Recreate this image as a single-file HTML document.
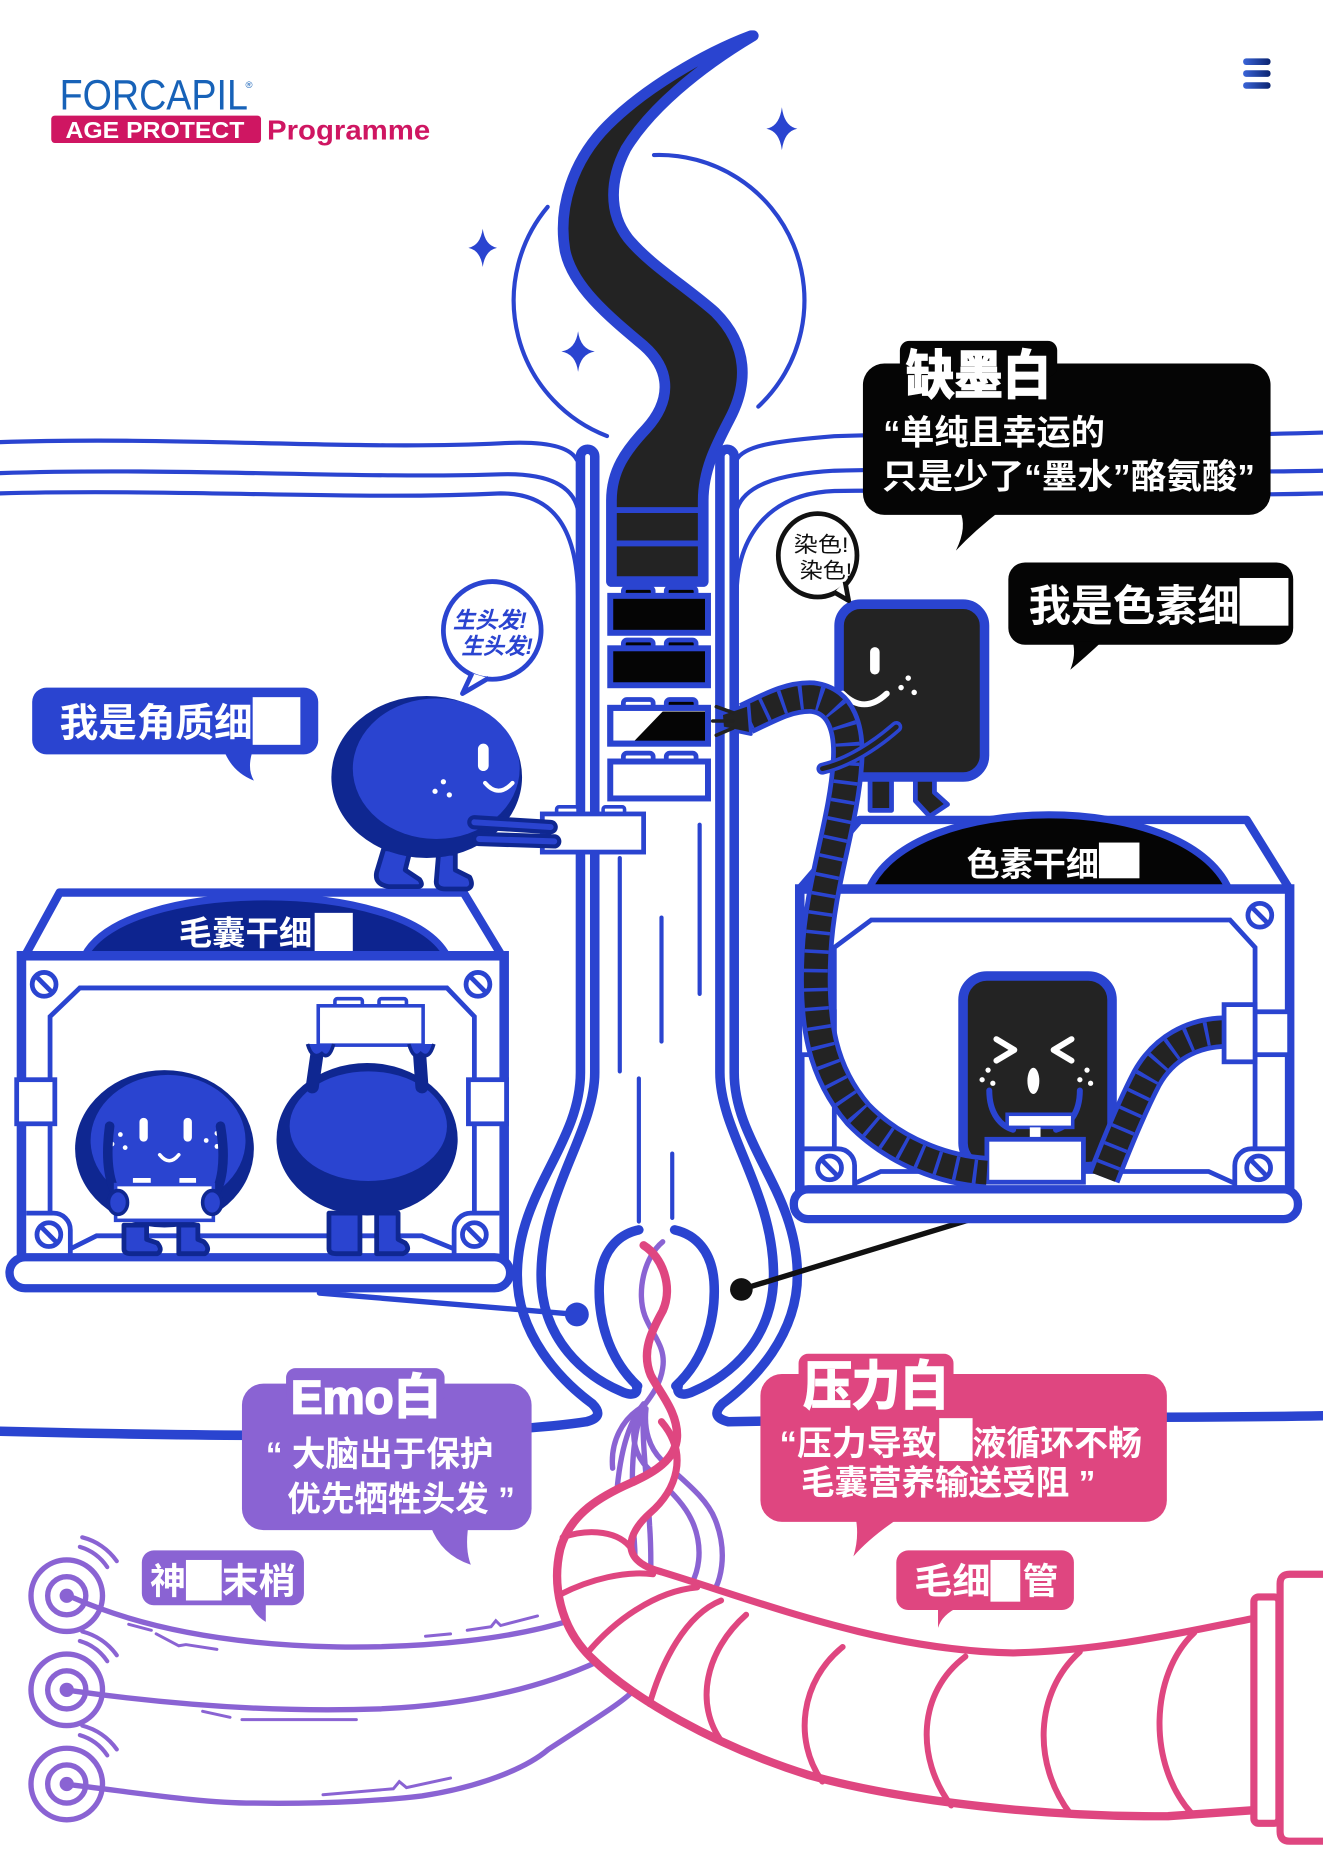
<!DOCTYPE html>
<html><head><meta charset="utf-8">
<style>
html,body{margin:0;padding:0;background:#fff;}
svg{display:block;}
text{font-family:"Liberation Sans","Noto Sans CJK SC",sans-serif;}
</style></head>
<body>
<svg width="1323" height="1871" viewBox="0 0 1110 1570" preserveAspectRatio="none" xmlns="http://www.w3.org/2000/svg">
<defs>
<linearGradient id="hb" x1="0" x2="1" y1="0" y2="0"><stop offset="0" stop-color="#3a64d8"/><stop offset="1" stop-color="#0b2470"/></linearGradient>
</defs>
<rect width="1110" height="1570" fill="#fff"/>

<!-- LOGO -->
<text x="50" y="92" font-size="36" fill="#1762b8" textLength="158" lengthAdjust="spacingAndGlyphs">FORCAPIL</text>
<text x="206" y="74" font-size="8" fill="#1762b8">®</text>
<rect x="43" y="97" width="176" height="23" rx="3" fill="#cf1662"/>
<text x="55" y="116" font-size="19.5" font-weight="bold" fill="#fff" textLength="150" lengthAdjust="spacingAndGlyphs">AGE PROTECT</text>
<text x="224" y="117" font-size="23" font-weight="bold" fill="#cf1662" textLength="137" lengthAdjust="spacingAndGlyphs">Programme</text>

<!-- hamburger -->
<rect x="1043" y="49" width="23" height="5.5" rx="2.5" fill="url(#hb)"/>
<rect x="1043" y="59" width="23" height="5.5" rx="2.5" fill="url(#hb)"/>
<rect x="1043" y="69" width="23" height="5.5" rx="2.5" fill="url(#hb)"/>

<!-- top skin lines and arcs -->
<g fill="none" stroke="#2a44d0" stroke-width="3.5" stroke-linecap="round">
<path d="M0,371 C150,366 300,378 420,372 C455,370 478,374 484,386"/>
<path d="M0,397 C150,392 300,402 420,398 C455,397 480,405 485,428"/>
<path d="M0,414 C150,410 300,420 420,414 C462,414 484,440 485,500"/>
<path d="M618,386 C624,374 650,370 700,366 C800,362 950,368 1110,363"/>
<path d="M618,428 C624,408 650,398 700,395 C800,392 950,398 1110,395"/>
<path d="M618,500 C618,450 645,414 700,412 C800,410 950,418 1110,414"/>
<path d="M459.5,173.6 A122,122 0 0 0 509.3,365.9"/>
<path d="M548.7,130.1 A122,122 0 0 1 636.2,341.2"/>
</g>
<!-- stars -->
<g fill="#2a44d0">
<path d="M656,90 Q658,106 669,108 Q658,110 656,126 Q654,110 643,108 Q654,106 656,90 Z"/>
<path d="M405,192 Q407,206 417,208 Q407,210 405,224 Q403,210 393,208 Q403,206 405,192 Z"/>
<path d="M485,278 Q487,293 499,295 Q487,297 485,312 Q483,297 471,295 Q483,293 485,278 Z"/>
</g>

<!-- HAIR -->
<path d="M630,30 C590,45 540,75 510,105 C480,135 468,175 474,210 C480,240 510,265 540,290 C565,312 562,338 542,360 C525,378 513,395 513,420 L513,488 L590,488 L590,420 C590,395 600,375 612,352 C628,322 628,290 600,262 C575,240 545,222 527,200 C510,178 512,150 525,125 C545,92 585,58 632,30 Z" fill="#232323" stroke="#2a44d0" stroke-width="9" stroke-linejoin="round"/>
<path d="M513,428 H590 M513,456 H590" stroke="#2a44d0" stroke-width="5"/>

<!-- FOLLICLE WALLS -->
<g fill="none" stroke="#2a44d0" stroke-width="8" stroke-linecap="round" stroke-linejoin="round">
<path d="M0,1201 C120,1204 250,1206 350,1203 C410,1201 460,1198 492,1193 Q508,1189 497,1178 C470,1158 434,1120 434,1070 C434,1000 487,960 487,900 L487,383 A6,6 0 0 1 499,383 L499,900 C499,950 454,1000 454,1070 C454,1125 492,1155 520,1167 C530,1172 536,1170 534,1163"/>
<path d="M1110,1188 C1000,1190 880,1189 780,1190 C700,1191 650,1192 611,1193 Q595,1189 606,1178 C633,1158 669,1120 669,1070 C669,1000 616,960 616,900 L616,383 A6,6 0 0 0 604,383 L604,900 C604,950 649,1000 649,1070 C649,1125 611,1155 583,1167 C573,1172 567,1170 569,1163"/>
<path d="M536,1032 C518,1036 505,1050 503,1075 C501,1105 510,1140 535,1163"/>
<path d="M566,1032 C584,1036 597,1050 599,1075 C601,1105 592,1140 567,1163"/>
</g>
<g stroke="#2a44d0" stroke-width="3.5" stroke-linecap="round">
<line x1="520" y1="720" x2="520" y2="899"/>
<line x1="536" y1="905" x2="536" y2="1025"/>
<line x1="555" y1="770" x2="555" y2="874"/>
<line x1="564" y1="968" x2="564" y2="1022"/>
<line x1="587" y1="692" x2="587" y2="834"/>
</g>

<!-- BRICKS -->
<g stroke="#2a44d0">
<rect x="523" y="493" width="25" height="9" rx="3" fill="#050505" stroke-width="4"/>
<rect x="559" y="493" width="25" height="9" rx="3" fill="#050505" stroke-width="4"/>
<rect x="512" y="500" width="82" height="31" fill="#050505" stroke-width="5"/>
<rect x="523" y="537" width="25" height="9" rx="3" fill="#050505" stroke-width="4"/>
<rect x="559" y="537" width="25" height="9" rx="3" fill="#050505" stroke-width="4"/>
<rect x="512" y="544" width="82" height="31" fill="#050505" stroke-width="5"/>
<rect x="523" y="587" width="25" height="9" rx="3" fill="#fff" stroke-width="4"/>
<rect x="559" y="587" width="25" height="9" rx="3" fill="#050505" stroke-width="4"/>
<rect x="512" y="594" width="82" height="30" fill="#fff" stroke-width="5"/>
<polygon points="532,622 556,597 592,597 592,622" fill="#050505" stroke="none"/>
<rect x="512" y="594" width="82" height="30" fill="none" stroke-width="5"/>
<rect x="523" y="632" width="25" height="9" rx="3" fill="#fff" stroke-width="4"/>
<rect x="559" y="632" width="25" height="9" rx="3" fill="#fff" stroke-width="4"/>
<rect x="512" y="639" width="82" height="31" fill="#fff" stroke-width="5"/>
</g>

<!-- connectors -->
<line x1="268" y1="1085" x2="484" y2="1103" stroke="#2a44d0" stroke-width="4.5" stroke-linecap="round"/>
<circle cx="484" cy="1103" r="10" fill="#2a44d0"/>
<line x1="622" y1="1082" x2="825" y2="1020" stroke="#111" stroke-width="4.5" stroke-linecap="round"/>
<circle cx="622" cy="1082" r="9.5" fill="#111"/>

<!-- PURPLE NERVES -->
<g fill="none" stroke="#8a63d3" stroke-width="4.5" stroke-linecap="round">
<path d="M556,1042 C540,1055 534,1085 541,1104 C547,1120 559,1130 556,1148 C554,1162 546,1172 540,1180"/>
<path d="M62,1341 C110,1362 180,1380 283,1382 C360,1383 430,1375 481,1359 C505,1350 515,1320 516,1280 C517,1240 522,1200 540,1178"/>
<path d="M62,1419 C140,1430 230,1437 318,1434 C390,1431 450,1418 502,1394 C530,1380 535,1330 532,1290 C530,1250 528,1210 540,1180"/>
<path d="M62,1498 C120,1505 170,1513 212,1513 C280,1514 330,1510 354,1507 C400,1500 440,1485 460,1468 C495,1445 520,1430 530,1420 C545,1400 548,1320 545,1280 C543,1240 538,1210 540,1180"/>
<path d="M540,1180 C522,1190 512,1210 514,1232"/>
<path d="M540,1180 C528,1195 530,1215 540,1228 C555,1245 572,1258 580,1275 C590,1295 590,1325 569,1342"/>
<path d="M542,1182 C540,1200 545,1215 555,1225 C570,1240 592,1255 600,1275 C610,1300 608,1330 590,1347"/>
</g>
<g fill="none" stroke="#8a63d3" stroke-width="2.5" stroke-linecap="round">
<path d="M108,1363 L127,1368 M131,1371 L150,1381 L156,1380 L182,1384 M357,1373 L378,1371 M392,1368 L412,1365 L416,1360 L420,1364 L451,1356"/>
<path d="M170,1436 L193,1441 M203,1443 L299,1443"/>
<path d="M271,1506 L330,1501 L335,1495 L341,1500 L378,1492"/>
</g>
<g fill="none" stroke="#8a63d3" stroke-width="4.5">
<circle cx="56" cy="1339" r="30"/><circle cx="56" cy="1339" r="16"/>
<circle cx="56" cy="1418" r="30"/><circle cx="56" cy="1418" r="16"/>
<circle cx="56" cy="1497" r="30"/><circle cx="56" cy="1497" r="16"/>
</g>
<g fill="none" stroke="#8a63d3" stroke-width="3.5" stroke-linecap="round">
<path d="M67,1298 A42,42 0 0 1 90,1315 M69,1290 A51,51 0 0 1 98,1310"/>
<path d="M67,1377 A42,42 0 0 1 90,1394 M69,1369 A51,51 0 0 1 98,1389"/>
<path d="M67,1456 A42,42 0 0 1 90,1473 M69,1448 A51,51 0 0 1 98,1468"/>
</g>
<g fill="#8a63d3"><circle cx="56" cy="1339" r="6"/><circle cx="56" cy="1418" r="6"/><circle cx="56" cy="1497" r="6"/></g>

<!-- PINK CAPILLARY -->
<path d="M555,1193 C578,1220 568,1250 545,1270 C525,1288 520,1310 555,1319 C640,1345 740,1385 850,1387 C930,1385 1000,1368 1052,1358 L1052,1519 L980,1524 C880,1525 760,1512 680,1490 C600,1465 530,1425 495,1390 C470,1365 463,1330 470,1300 C478,1270 505,1255 530,1244 C548,1236 567,1225 568,1206 Z" fill="#fff"/>
<g fill="none" stroke="#df4680" stroke-linecap="round" stroke-linejoin="round">
<path stroke-width="7" d="M540,1045 C556,1055 565,1080 556,1100 C546,1118 538,1135 546,1154 C553,1168 569,1185 568,1206 C567,1225 548,1236 530,1244 C505,1255 478,1270 470,1300 C463,1330 470,1365 495,1390 C530,1425 600,1465 680,1490 C760,1512 880,1525 980,1524 L1052,1519"/>
<path stroke-width="6" d="M555,1193 C578,1220 568,1250 545,1270 C525,1288 520,1310 555,1319 C640,1345 740,1385 850,1387 C930,1385 1000,1368 1052,1358"/>
<g stroke-width="5">
<path d="M626,1355 C592,1385 582,1430 606,1462"/>
<path d="M707,1382 C672,1410 665,1460 690,1495"/>
<path d="M810,1390 C770,1420 768,1475 798,1515"/>
<path d="M906,1386 C868,1420 866,1480 898,1522"/>
<path d="M1002,1370 C965,1405 962,1480 1000,1522"/>
<path d="M472,1290 C495,1282 520,1285 530,1300"/>
<path d="M470,1338 C495,1325 525,1318 548,1321"/>
<path d="M492,1388 C515,1360 550,1335 585,1332"/>
<path d="M545,1430 C555,1395 575,1355 605,1343"/>
</g>
</g>
<rect x="1052" y="1340" width="21" height="190" rx="4" fill="#fff" stroke="#df4680" stroke-width="6"/>
<path d="M1110,1321 L1082,1321 Q1074,1321 1074,1329 L1074,1537 Q1074,1545 1082,1545 L1110,1545" fill="#fff" stroke="#df4680" stroke-width="6"/>

<!-- LEFT BOX -->
<polygon points="50,749 389,749 421,802 21,802" fill="#fff" stroke="#2a44d0" stroke-width="7" stroke-linejoin="round"/>
<path d="M71,802 C105,736 340,736 375,802 Z" fill="#0d248f" stroke="#2a44d0" stroke-width="6"/>
<rect x="18" y="802" width="405" height="255" fill="#fff" stroke="#2a44d0" stroke-width="8"/>
<g fill="none" stroke="#2a44d0" stroke-width="4">
<path d="M42,1018 L42,853 L67,829 L375,829 L398,853 L398,1018"/>
<path d="M22,1018 L45,1018 A14,14 0 0 1 59,1032 L59,1052"/>
<path d="M419,1018 L395,1018 A14,14 0 0 0 381,1032 L381,1052"/>
<path d="M59,1048 L81,1037 L354,1037 L381,1048"/>
</g>
<rect x="14" y="906" width="32" height="37" fill="#fff" stroke="#2a44d0" stroke-width="4"/>
<rect x="393" y="906" width="32" height="37" fill="#fff" stroke="#2a44d0" stroke-width="4"/>
<rect x="8" y="1055" width="420" height="26" rx="13" fill="#fff" stroke="#2a44d0" stroke-width="7"/>
<g fill="#fff" stroke="#2a44d0" stroke-width="4">
<g transform="translate(37,826)"><circle r="10"/><line x1="-6" y1="-6" x2="6" y2="6"/></g>
<g transform="translate(401,826)"><circle r="10"/><line x1="-6" y1="-6" x2="6" y2="6"/></g>
<g transform="translate(41,1036)"><circle r="10"/><line x1="-6" y1="-6" x2="6" y2="6"/></g>
<g transform="translate(398,1036)"><circle r="10"/><line x1="-6" y1="-6" x2="6" y2="6"/></g>
</g>
<text x="150" y="793" font-size="28" font-weight="bold" fill="#fff" textLength="112" lengthAdjust="spacingAndGlyphs">毛囊干细</text>
<rect x="264" y="766" width="32" height="32" fill="#fff"/>

<!-- smiling blob -->
<g fill="#2a44d0" stroke="#0f2791" stroke-width="4" stroke-linejoin="round">
<path d="M104,1028 L104,1048 Q104,1052 110,1052 L132,1052 Q137,1049 132,1043 L123,1040 L123,1028 Z"/>
<path d="M150,1028 L150,1052 L172,1052 Q177,1048 171,1042 L166,1040 L166,1028 Z"/>
</g>
<ellipse cx="138" cy="964" rx="75" ry="66" fill="#0f2791"/>
<ellipse cx="141" cy="957" rx="65" ry="55" fill="#2a44d0"/>
<rect x="117" y="938" width="7" height="20" rx="3.5" fill="#fff"/>
<rect x="154" y="938" width="7" height="20" rx="3.5" fill="#fff"/>
<path d="M134,969 Q142,979 150,969" fill="none" stroke="#fff" stroke-width="3" stroke-linecap="round"/>
<g fill="#fff"><circle cx="101" cy="952" r="2"/><circle cx="94" cy="960" r="2"/><circle cx="105" cy="963" r="2"/><circle cx="182" cy="951" r="2"/><circle cx="173" cy="957" r="2"/><circle cx="182" cy="962" r="2"/></g>
<path d="M92,945 C88,975 92,995 100,1005 M185,945 C190,975 186,995 178,1005" fill="none" stroke="#0f2791" stroke-width="8" stroke-linecap="round"/>
<rect x="110" y="987" width="18" height="9" rx="2" fill="#fff" stroke="#2a44d0" stroke-width="3"/>
<rect x="149" y="987" width="17" height="9" rx="2" fill="#fff" stroke="#2a44d0" stroke-width="3"/>
<rect x="97" y="994" width="82" height="30" fill="#fff" stroke="#2a44d0" stroke-width="3"/>
<ellipse cx="99" cy="1009" rx="8" ry="10" fill="#2a44d0" stroke="#0f2791" stroke-width="3"/>
<ellipse cx="178" cy="1009" rx="8" ry="10" fill="#2a44d0" stroke="#0f2791" stroke-width="3"/>

<!-- back blob -->
<g fill="#2a44d0" stroke="#0f2791" stroke-width="4" stroke-linejoin="round">
<path d="M276,1018 L276,1048 Q276,1052 282,1052 L302,1052 L302,1018 Z"/>
<path d="M316,1018 L316,1052 L338,1052 Q345,1049 340,1043 L334,1040 L334,1018 Z"/>
</g>
<ellipse cx="308" cy="956" rx="76" ry="64" fill="#0f2791"/>
<ellipse cx="309" cy="945" rx="66" ry="46" fill="#2a44d0"/>
<path d="M262,912 L266,884 M354,912 L352,884" fill="none" stroke="#0f2791" stroke-width="11" stroke-linecap="round"/>
<rect x="281" y="838" width="23" height="9" rx="2" fill="#fff" stroke="#2a44d0" stroke-width="3"/>
<rect x="318" y="838" width="23" height="9" rx="2" fill="#fff" stroke="#2a44d0" stroke-width="3"/>
<rect x="267" y="844" width="88" height="33" fill="#fff" stroke="#2a44d0" stroke-width="3"/>
<path d="M258,876 Q262,890 270,884 Q276,890 280,876" fill="#2a44d0" stroke="#0f2791" stroke-width="3"/>
<path d="M343,876 Q347,890 353,884 Q360,890 364,876" fill="#2a44d0" stroke="#0f2791" stroke-width="3"/>

<!-- keratinocyte -->
<g fill="#2a44d0" stroke="#0f2791" stroke-width="4" stroke-linejoin="round">
<path d="M322,712 L316,732 Q314,742 326,744 L350,744 Q356,744 352,738 L340,730 L344,714 Z"/>
<path d="M368,716 L366,740 Q366,746 374,746 L392,746 Q398,744 394,736 L382,730 L382,716 Z"/>
</g>
<ellipse cx="358" cy="652" rx="80" ry="68" fill="#0f2791"/>
<ellipse cx="366" cy="645" rx="70" ry="59" fill="#2a44d0"/>
<rect x="401" y="624" width="9" height="23" rx="4.5" fill="#fff"/>
<path d="M407,657 Q418,670 430,657" fill="none" stroke="#fff" stroke-width="3.5" stroke-linecap="round"/>
<g fill="#fff"><circle cx="372" cy="656" r="2.2"/><circle cx="365" cy="664" r="2.2"/><circle cx="377" cy="667" r="2.2"/></g>
<rect x="467" y="677" width="18" height="8" rx="2" fill="#fff" stroke="#2a44d0" stroke-width="3"/>
<rect x="506" y="677" width="18" height="8" rx="2" fill="#fff" stroke="#2a44d0" stroke-width="3"/>
<rect x="455" y="683" width="85" height="32" fill="#fff" stroke="#2a44d0" stroke-width="4"/>
<path d="M398,690 L462,694 M402,704 L465,706" fill="none" stroke="#0f2791" stroke-width="12" stroke-linecap="round"/>
<path d="M398,690 L462,694 M402,704 L465,706" fill="none" stroke="#2a44d0" stroke-width="5" stroke-linecap="round"/>

<!-- RIGHT BOX -->
<polygon points="721,688 1046,688 1082,746 671,746" fill="#fff" stroke="#2a44d0" stroke-width="7" stroke-linejoin="round"/>
<path d="M729,746 C765,663 995,663 1031,746 Z" fill="#050505" stroke="#2a44d0" stroke-width="6"/>
<rect x="671" y="746" width="411" height="254" fill="#fff" stroke="#2a44d0" stroke-width="8"/>
<g fill="none" stroke="#2a44d0" stroke-width="4">
<path d="M700,965 L700,795 L731,772 L1032,772 L1053,795 L1053,965"/>
<path d="M672,964 L703,964 A14,14 0 0 1 717,978 L717,997"/>
<path d="M1081,964 L1050,964 A14,14 0 0 0 1036,978 L1036,997"/>
<path d="M717,993 L739,983 L1014,983 L1036,993"/>
</g>
<rect x="671" y="849" width="29" height="36" fill="#fff" stroke="#2a44d0" stroke-width="4"/>
<rect x="1053" y="849" width="29" height="36" fill="#fff" stroke="#2a44d0" stroke-width="4"/>
<rect x="666" y="998" width="423" height="25" rx="12" fill="#fff" stroke="#2a44d0" stroke-width="7"/>
<g fill="#fff" stroke="#2a44d0" stroke-width="4">
<g transform="translate(690,768)"><circle r="10"/><line x1="-6" y1="-6" x2="6" y2="6"/></g>
<g transform="translate(1057,768)"><circle r="10"/><line x1="-6" y1="-6" x2="6" y2="6"/></g>
<g transform="translate(696,980)"><circle r="10"/><line x1="-6" y1="-6" x2="6" y2="6"/></g>
<g transform="translate(1056,980)"><circle r="10"/><line x1="-6" y1="-6" x2="6" y2="6"/></g>
</g>
<text x="811" y="735" font-size="28" font-weight="bold" fill="#fff" textLength="111" lengthAdjust="spacingAndGlyphs">色素干细</text>
<rect x="922" y="707" width="34" height="30" fill="#fff"/>

<!-- crying melanocyte -->
<rect x="808" y="819" width="125" height="160" rx="20" fill="#232323" stroke="#2a44d0" stroke-width="8"/>
<path d="M836,872 L851,881 L836,890 M899,872 L884,881 L899,890" fill="none" stroke="#fff" stroke-width="5" stroke-linecap="round" stroke-linejoin="round"/>
<ellipse cx="867" cy="907" rx="5" ry="11" fill="#fff"/>
<g fill="#fff"><circle cx="829" cy="898" r="2.2"/><circle cx="824" cy="906" r="2.2"/><circle cx="833" cy="909" r="2.2"/><circle cx="912" cy="898" r="2.2"/><circle cx="906" cy="906" r="2.2"/><circle cx="915" cy="909" r="2.2"/></g>
<path d="M830,915 C830,935 840,945 850,948 M906,915 C906,935 896,945 886,948" fill="none" stroke="#2a44d0" stroke-width="5" stroke-linecap="round"/>
<rect x="845" y="935" width="55" height="11" fill="#fff" stroke="#2a44d0" stroke-width="3"/>
<rect x="864" y="946" width="9" height="10" fill="#fff"/>
<rect x="828" y="956" width="81" height="36" fill="#fff" stroke="#2a44d0" stroke-width="4"/>

<!-- melanocyte top -->
<g fill="#232323" stroke="#2a44d0" stroke-width="4" stroke-linejoin="round">
<path d="M730,650 L730,680 L748,680 L748,650 Z"/>
<path d="M768,650 L768,672 L780,685 L795,675 L784,665 L784,650 Z"/>
</g>
<rect x="704" y="507" width="122" height="145" rx="18" fill="#232323" stroke="#2a44d0" stroke-width="8"/>
<rect x="730" y="543" width="8" height="23" rx="4" fill="#fff"/>
<path d="M707,582 Q725,600 744,582" fill="none" stroke="#fff" stroke-width="5" stroke-linecap="round"/>
<g fill="#fff"><circle cx="762" cy="569" r="2.3"/><circle cx="756" cy="577" r="2.3"/><circle cx="767" cy="581" r="2.3"/></g>

<!-- hoses -->
<g fill="none">
<path d="M626,603 C645,594 662,584 682,585 C706,588 713,612 711,640 C708,690 688,740 685,800 C682,860 690,900 720,935 C752,968 795,982 828,984" stroke="#2a44d0" stroke-width="28"/>
<path d="M626,603 C645,594 662,584 682,585 C706,588 713,612 711,640 C708,690 688,740 685,800 C682,860 690,900 720,935 C752,968 795,982 828,984" stroke="#232323" stroke-width="20"/>
<path d="M626,603 C645,594 662,584 682,585 C706,588 713,612 711,640 C708,690 688,740 685,800 C682,860 690,900 720,935 C752,968 795,982 828,984" stroke="#2a44d0" stroke-width="20" stroke-dasharray="3 13"/>
<path d="M1030,866 C1000,866 976,880 962,905 C948,932 936,962 926,988" stroke="#2a44d0" stroke-width="28"/>
<path d="M1030,866 C1000,866 976,880 962,905 C948,932 936,962 926,988" stroke="#232323" stroke-width="20"/>
<path d="M1030,866 C1000,866 976,880 962,905 C948,932 936,962 926,988" stroke="#2a44d0" stroke-width="20" stroke-dasharray="3 13"/>
</g>
<rect x="1027" y="843" width="26" height="48" fill="#fff" stroke="#2a44d0" stroke-width="4"/>
<polygon points="605,599 628,591 630,616 606,611" fill="#232323" stroke="#2a44d0" stroke-width="3" stroke-linejoin="round"/>
<path d="M601,593 L615,598 M598,605 L615,605 M601,617 L615,611" stroke="#222" stroke-width="3" stroke-linecap="round"/>
<path d="M752,610 C735,625 712,640 690,645" fill="none" stroke="#2a44d0" stroke-width="10" stroke-linecap="round"/>
<path d="M752,610 C735,625 712,640 690,645" fill="none" stroke="#232323" stroke-width="4" stroke-linecap="round"/>

<!-- small round speech bubbles -->
<circle cx="413" cy="529" r="41" fill="#fff" stroke="#2a44d0" stroke-width="4"/>
<path d="M396,565 L388,582 L410,569" fill="#fff" stroke="#2a44d0" stroke-width="4" stroke-linejoin="round"/>
<text x="380" y="527" font-size="19" font-weight="bold" font-style="italic" fill="#2a44d0" textLength="62" lengthAdjust="spacingAndGlyphs">生头发!</text>
<text x="387" y="549" font-size="19" font-weight="bold" font-style="italic" fill="#2a44d0" textLength="60" lengthAdjust="spacingAndGlyphs">生头发!</text>

<ellipse cx="686" cy="466" rx="33" ry="35" fill="#fff" stroke="#111" stroke-width="4"/>
<path d="M700,497 L712,504 L709,488" fill="#fff" stroke="#111" stroke-width="4" stroke-linejoin="round"/>
<text x="666" y="463" font-size="18" fill="#111" textLength="46" lengthAdjust="spacingAndGlyphs">染色!</text>
<text x="671" y="485" font-size="18" fill="#111" textLength="44" lengthAdjust="spacingAndGlyphs">染色!</text>

<!-- label bubbles -->
<rect x="27" y="577" width="240" height="56" rx="12" fill="#2a44d0"/>
<path d="M188,630 L212,630 Q207,645 213,655 Q195,648 188,630 Z" fill="#2a44d0"/>
<text x="50" y="618" font-size="33" font-weight="bold" fill="#fff" textLength="162" lengthAdjust="spacingAndGlyphs">我是角质细</text>
<rect x="212" y="585" width="40" height="40" fill="#fff"/>

<rect x="846" y="472" width="239" height="69" rx="14" fill="#050505"/>
<path d="M900,538 L925,538 Q910,552 898,562 Q903,550 900,538 Z" fill="#050505"/>
<text x="863" y="521" font-size="36" font-weight="bold" fill="#fff" textLength="177" lengthAdjust="spacingAndGlyphs">我是色素细</text>
<rect x="1040" y="485" width="41" height="40" fill="#fff"/>

<rect x="724" y="305" width="342" height="127" rx="18" fill="#050505"/>
<rect x="755" y="286" width="132" height="30" rx="8" fill="#050505"/>
<path d="M805,428 L840,428 Q818,445 802,462 Q812,442 805,428 Z" fill="#050505"/>
<text x="760" y="330" font-size="44" font-weight="bold" fill="#fff" stroke="#fff" stroke-width="1.5" textLength="122" lengthAdjust="spacingAndGlyphs">缺墨白</text>
<text x="741" y="373" font-size="29" font-weight="bold" fill="#fff" textLength="186" lengthAdjust="spacingAndGlyphs">“单纯且幸运的</text>
<text x="740" y="410" font-size="29" font-weight="bold" fill="#fff" textLength="313" lengthAdjust="spacingAndGlyphs">只是少了“墨水”酪氨酸”</text>

<rect x="203" y="1161" width="243" height="123" rx="18" fill="#8a63d3"/>
<rect x="240" y="1148" width="133" height="30" rx="8" fill="#8a63d3"/>
<path d="M361,1280 L393,1280 Q390,1300 395,1313 Q370,1305 361,1280 Z" fill="#8a63d3"/>
<text x="244" y="1186" font-size="40" font-weight="bold" fill="#fff" stroke="#fff" stroke-width="1.5" textLength="126" lengthAdjust="spacingAndGlyphs">Emo白</text>
<text x="223" y="1230" font-size="29" font-weight="bold" fill="#fff" textLength="191" lengthAdjust="spacingAndGlyphs">“ 大脑出于保护</text>
<text x="241" y="1268" font-size="29" font-weight="bold" fill="#fff" textLength="191" lengthAdjust="spacingAndGlyphs">优先牺牲头发 ”</text>

<rect x="638" y="1153" width="341" height="124" rx="18" fill="#df4680"/>
<rect x="670" y="1136" width="130" height="30" rx="8" fill="#df4680"/>
<path d="M718,1274 L754,1274 Q730,1290 716,1306 Q721,1290 718,1274 Z" fill="#df4680"/>
<text x="674" y="1178" font-size="44" font-weight="bold" fill="#fff" stroke="#fff" stroke-width="1.5" textLength="122" lengthAdjust="spacingAndGlyphs">压力白</text>
<text x="654" y="1221" font-size="28.5" font-weight="bold" fill="#fff" textLength="132" lengthAdjust="spacingAndGlyphs">“压力导致</text>
<rect x="788" y="1190" width="28" height="36" fill="#fff"/>
<text x="816" y="1221" font-size="28.5" font-weight="bold" fill="#fff" textLength="142" lengthAdjust="spacingAndGlyphs">液循环不畅</text>
<text x="672" y="1254" font-size="28.5" font-weight="bold" fill="#fff" textLength="247" lengthAdjust="spacingAndGlyphs">毛囊营养输送受阻 ”</text>

<rect x="119" y="1301" width="136" height="46" rx="10" fill="#8a63d3"/>
<path d="M209,1344 L223,1344 L223,1361 Q213,1355 209,1344 Z" fill="#8a63d3"/>
<text x="126" y="1337" font-size="30" font-weight="bold" fill="#fff" textLength="30" lengthAdjust="spacingAndGlyphs">神</text>
<rect x="156" y="1309" width="30" height="34" fill="#fff"/>
<text x="186" y="1337" font-size="30" font-weight="bold" fill="#fff" textLength="62" lengthAdjust="spacingAndGlyphs">末梢</text>

<rect x="752" y="1301" width="149" height="50" rx="10" fill="#df4680"/>
<path d="M787,1348 L805,1348 Q790,1355 787,1366 Z" fill="#df4680"/>
<text x="767" y="1337" font-size="30" font-weight="bold" fill="#fff" textLength="64" lengthAdjust="spacingAndGlyphs">毛细</text>
<rect x="831" y="1309" width="25" height="35" fill="#fff"/>
<text x="858" y="1337" font-size="30" font-weight="bold" fill="#fff" textLength="30" lengthAdjust="spacingAndGlyphs">管</text>
</svg>
</body></html>
